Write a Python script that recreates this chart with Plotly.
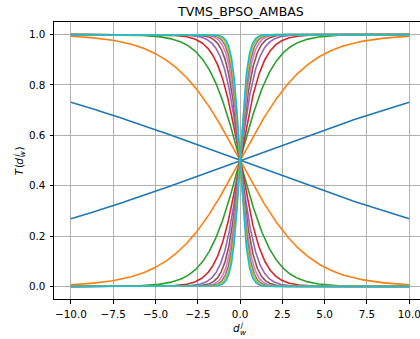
import numpy as np
import plotly.graph_objects as go

# Steepness of each mirrored S-shaped transfer function pair
slopes = [0.1, 0.5, 1.0, 1.5, 2.0, 2.5, 3.0, 3.5, 4.0, 4.5]
colors = ["#1f77b4", "#ff7f0e", "#2ca02c", "#d62728", "#9467bd",
          "#8c564b", "#e377c2", "#7f7f7f", "#bcbd22", "#17becf"]

x_tick_vals = [-10, -7.5, -5, -2.5, 0, 2.5, 5, 7.5, 10]
x_tick_text = ["\u221210.0", "\u22127.5", "\u22125.0", "\u22122.5", "0.0",
               "2.5", "5.0", "7.5", "10.0"]
y_tick_vals = [0.0, 0.2, 0.4, 0.6, 0.8, 1.0]
y_tick_text = ["0.0", "0.2", "0.4", "0.6", "0.8", "1.0"]

title_text = "TVMS_BPSO_AMBAS"

W, H = 420, 339
L, R, T, B = 54, 0, 22, 40
PW, PH = W - L - R, H - T - B
FONT = "DejaVu Sans"
FS = 10.4

d = np.linspace(-10, 10, 1001)

fig = go.Figure()
for a, c in zip(slopes, colors):
    s = 1.0 / (1.0 + np.exp(-a * d))
    for yv in (s, 1.0 - s):
        fig.add_trace(go.Scatter(x=d, y=yv, mode="lines",
                                 line=dict(color=c, width=1.6),
                                 showlegend=False, hoverinfo="skip"))


def px(xp):
    return (xp - L) / PW


def py(yp):
    return (T + PH - yp) / PH


def label(text, xp, yp, size, angle=0):
    fig.add_annotation(text=text, x=px(xp), y=py(yp), xref="paper", yref="paper",
                       xanchor="center", yanchor="middle", showarrow=False,
                       textangle=angle, borderpad=0,
                       font=dict(family=FONT, size=size, color="black"))


SS = FS * 0.7
# x-axis label: d with stacked superscript j and subscript w
label("<i>d</i>", 236.3, 328.1, FS)
label("<i>j</i>", 242.0, 324.8, SS)
label("<i>w</i>", 242.6, 332.0, SS)

# y-axis label, rotated: T(d_w^j)
label("<i>T</i>", 18.9, 171.3, FS, -90)
label("(", 18.9, 166.1, FS, -90)
label("<i>d</i>", 18.9, 160.8, FS, -90)
label("<i>w</i>", 22.3, 154.0, SS, -90)
label("<i>j</i>", 16.0, 155.2, SS, -90)
label(")", 18.9, 148.5, FS, -90)

# title
label(title_text, 240.2, 11.5, 12.5)

axis_common = dict(
    showgrid=True, gridcolor="#b0b0b0", gridwidth=0.8,
    zeroline=False, showline=True, linecolor="black", linewidth=0.8,
    ticks="outside", ticklen=3.6, tickwidth=0.8, tickcolor="black",
    tickfont=dict(family=FONT, size=FS, color="black"),
    ticklabeloverflow="allow",
)

fig.update_xaxes(range=[-11, -11 + PW / 16.915], tickmode="array",
                 tickvals=x_tick_vals, ticktext=x_tick_text, mirror=True,
                 ticklabelstandoff=2, **axis_common)
fig.update_yaxes(range=[-0.05, 1.05], tickmode="array",
                 tickvals=y_tick_vals, ticktext=y_tick_text,
                 ticklabelstandoff=2, **axis_common)

fig.update_layout(width=W, height=H, margin=dict(l=L, r=R, t=T, b=B),
                  paper_bgcolor="white", plot_bgcolor="white",
                  font=dict(family=FONT, size=FS, color="black"))

fig.write_html("out.html")
